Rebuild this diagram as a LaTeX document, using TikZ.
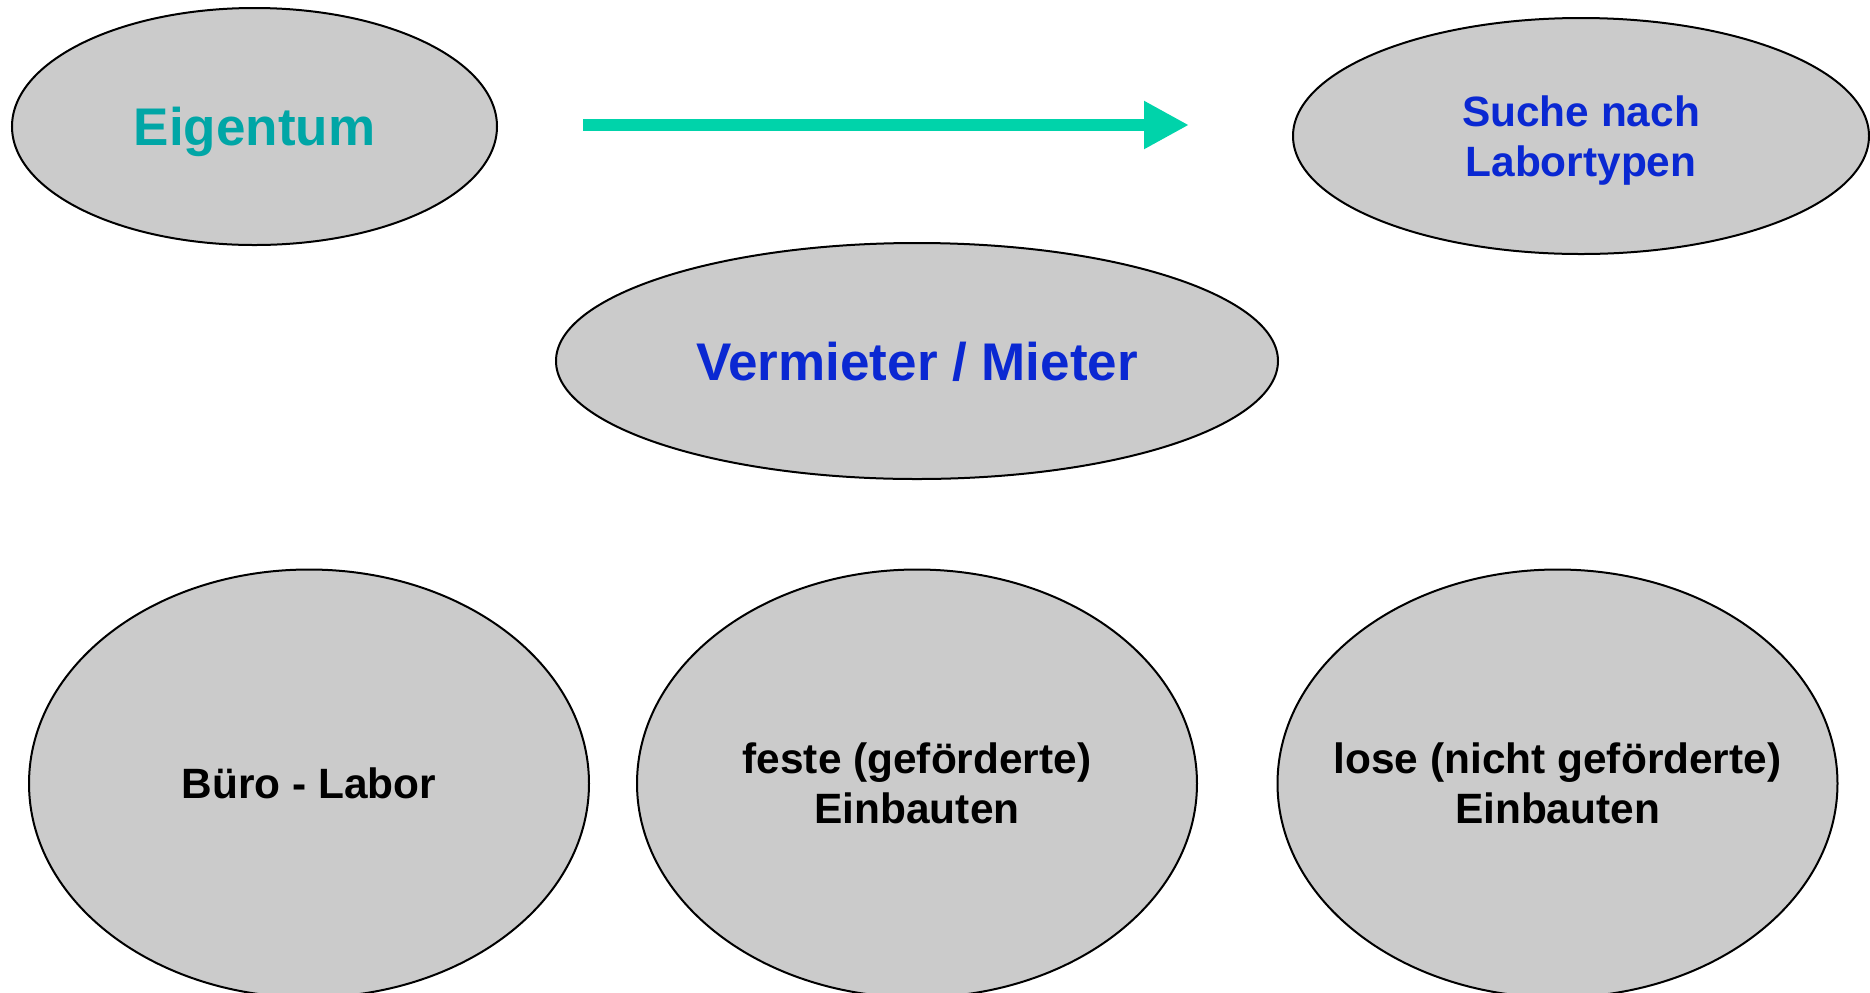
\documentclass[tikz,border=0pt]{standalone}
\usepackage{fontspec}
\setmainfont{Liberation Sans}
\usetikzlibrary{shapes.geometric,arrows.meta}
\definecolor{ellfill}{RGB}{203,203,203}
\definecolor{tealtxt}{RGB}{0,166,166}
\definecolor{bluetxt}{RGB}{10,40,210}
\definecolor{arrowgreen}{RGB}{0,211,170}
\tikzset{
  oval/.style={ellipse, draw=black, line width=1pt, fill=ellfill, inner sep=0pt, inner xsep=-30pt, align=center, font=\bfseries},
  bigtxt/.style={font=\bfseries\fontsize{26.5}{31}\selectfont},
  midtxt/.style={font=\bfseries\fontsize{21.2}{25}\selectfont},
}
\begin{document}
\begin{tikzpicture}[x=0.5pt,y=-0.5pt]
\useasboundingbox (0,0) rectangle (1870,992);
\clip (0,0) rectangle (1870,992);
\fill[white] (0,0) rectangle (1870,992);
\node[oval, bigtxt, text=tealtxt, text depth=0pt, minimum width=242.5pt, minimum height=118.5pt] (eig) at (254.5,126.5) {Eigentum};
\node[oval, midtxt, text=bluetxt, text depth=0pt, minimum width=288pt, minimum height=118pt] (such) at (1581,136) {Suche nach\\Labortypen};
\node[oval, bigtxt, text=bluetxt, text depth=-2pt, minimum width=361pt, minimum height=118pt] (verm) at (917,361) {Vermieter / Mieter};
\node[oval, midtxt, minimum width=280pt, minimum height=214pt] (buero) at (309,783.5) {Büro - Labor};
\node[oval, midtxt, minimum width=280pt, minimum height=214pt] (feste) at (917,783.5) {feste (geförderte)\\Einbauten};
\node[oval, midtxt, minimum width=280pt, minimum height=214pt] (lose) at (1557.5,783.5) {lose (nicht geförderte)\\Einbauten};
\coordinate (astart) at (583,125);
\coordinate (aend) at (1189,125);
\draw[arrowgreen, line width=6pt, -{Triangle[length=22.5pt,width=22.5pt]}] (astart) -- (aend);
\end{tikzpicture}
\end{document}
